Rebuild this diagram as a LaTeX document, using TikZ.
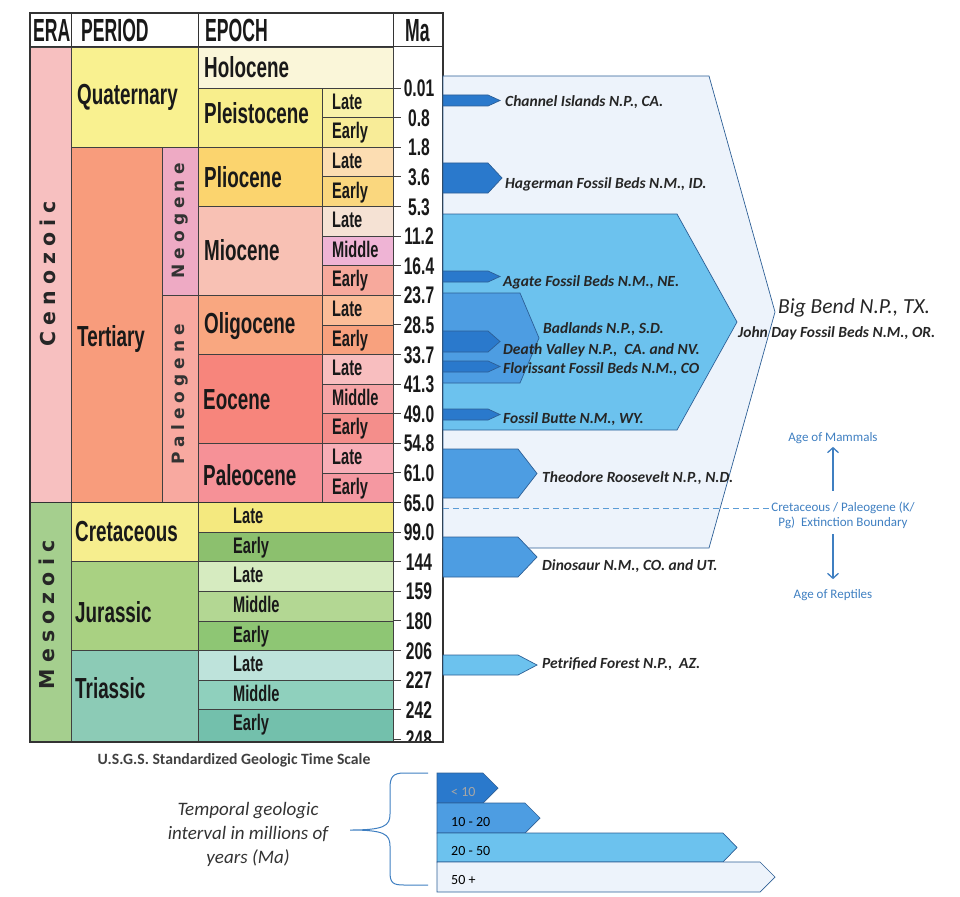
\documentclass[tikz,border=0pt]{standalone}
\usepackage{fontspec}
\setmainfont{Carlito}
\newfontfamily\tabfont[FakeStretch=0.65]{Liberation Sans}
\newfontfamily\headfont[FakeStretch=0.55]{Liberation Sans}
\newfontfamily\erafont[LetterSpace=30]{DejaVu Sans}
\usepackage{xcolor}
\usetikzlibrary{arrows, arrows.meta, positioning, calc}

% eras and periods
\definecolor{cenozoic}{HTML}{F7C0C0}
\definecolor{mesozoic}{HTML}{A5CF8E}
\definecolor{quaternary}{HTML}{F9F190}
\definecolor{tertiary}{HTML}{F89C7C}
\definecolor{neogene}{HTML}{EEAAC4}
\definecolor{paleogene}{HTML}{F8A9A0}
\definecolor{cretaceous}{HTML}{F6EE8E}
\definecolor{jurassic}{HTML}{A9D182}
\definecolor{triassic}{HTML}{8CCBB6}
% epochs
\definecolor{holocene}{HTML}{FAF6D9}
\definecolor{pleistocene}{HTML}{F8EE8C}
\definecolor{pliocene}{HTML}{FBD46E}
\definecolor{miocene}{HTML}{F8C1B4}
\definecolor{oligocene}{HTML}{F9A780}
\definecolor{eocene}{HTML}{F7857C}
\definecolor{paleocene}{HTML}{F69197}
% subdivisions
\definecolor{pleiL}{HTML}{F9F2AA}
\definecolor{pleiE}{HTML}{F8EC98}
\definecolor{plioL}{HTML}{FCDDB2}
\definecolor{plioE}{HTML}{FAD77E}
\definecolor{mioL}{HTML}{F5E2D4}
\definecolor{mioM}{HTML}{EFB4D5}
\definecolor{mioE}{HTML}{F7A99C}
\definecolor{oligL}{HTML}{FBBD98}
\definecolor{oligE}{HTML}{F8A17E}
\definecolor{eoL}{HTML}{F8BEBF}
\definecolor{eoM}{HTML}{F6A4A6}
\definecolor{eoE}{HTML}{F48E8B}
\definecolor{paleoL}{HTML}{F8AEB7}
\definecolor{paleoE}{HTML}{F598A1}
\definecolor{creL}{HTML}{F4E97F}
\definecolor{creE}{HTML}{8CC06E}
\definecolor{jurL}{HTML}{D6EBC0}
\definecolor{jurM}{HTML}{B3D793}
\definecolor{jurE}{HTML}{8EC674}
\definecolor{triL}{HTML}{BEE3DB}
\definecolor{triM}{HTML}{8FD0BD}
\definecolor{triE}{HTML}{73C0AC}
% interval arrows
\definecolor{blueA}{HTML}{2A79CC}
\definecolor{blueB}{HTML}{4D9DE2}
\definecolor{blueC}{HTML}{6CC2EE}
\definecolor{blueD}{HTML}{EDF3FB}
\definecolor{edgeblue}{HTML}{2D5F96}
\definecolor{noteblue}{HTML}{3F7FC1}
\definecolor{dashblue}{HTML}{5B9BD5}

% y of the k-th boundary below 0.01 Ma
\newcommand{\ry}[1]{(88+29.6*(#1))}
% style, left, top, bottom, body end, tip
\newcommand{\agearrow}[6]{%
  \filldraw[#1] (#2,#3) -- (#5,#3) -- (#6,{(#3+#4)/2}) -- (#5,#4) -- (#2,#4) -- cycle;}

\tikzset{
  cell/.style={draw=black!75, line width=0.6pt},
  headtxt/.style={font=\headfont\bfseries\fontsize{32}{32}\selectfont, anchor=west, inner sep=0pt, text height=23pt, text depth=0pt, text=black!90},
  epochtxt/.style={font=\tabfont\bfseries\fontsize{29}{29}\selectfont, anchor=west, inner sep=0pt, text height=20.8pt, text depth=0pt, text=black!90},
  subtxt/.style={font=\tabfont\bfseries\fontsize{22.5}{22.5}\selectfont, anchor=west, inner sep=0pt, text height=16.1pt, text depth=0pt, text=black!90},
  matxt/.style={font=\tabfont\bfseries\fontsize{24}{24}\selectfont, inner sep=0pt, text height=17.2pt, text depth=0pt, text=black!90},
  eratxt/.style={font=\erafont\bfseries\fontsize{20.5}{20.5}\selectfont, rotate=90, inner sep=0pt, text=black!85},
  subera/.style={font=\erafont\bfseries\fontsize{17}{17}\selectfont, rotate=90, inner sep=0pt, text=black!80},
  matick/.style={draw=black!75, line width=0.8pt},
  arrowedge/.style={draw=edgeblue, line width=0.7pt},
  lt10/.style={arrowedge, fill=blueA},
  ten20/.style={arrowedge, fill=blueB},
  twenty50/.style={arrowedge, fill=blueC},
  fiftyplus/.style={arrowedge, fill=blueD},
  parktxt/.style={font=\bfseries\itshape\fontsize{15.5}{18}\selectfont, anchor=base west, inner sep=0pt, text=black!85},
  notetxt/.style={font=\fontsize{13}{15.5}\selectfont, text=noteblue, inner sep=0pt},
  noteline/.style={draw=noteblue, line width=1.3pt, ->, >={Straight Barb[length=5pt, width=11pt]}},
  kpgdash/.style={draw=dashblue, dash pattern=on 6pt off 4pt, line width=0.8pt},
  bartxt/.style={font=\fontsize{14}{14}\selectfont, anchor=west, inner sep=0pt},
}

\begin{document}
\begin{tikzpicture}[x=1pt, y=-1pt]
\useasboundingbox (0,0) rectangle (960,896);

% Eras
\filldraw[cell, fill=cenozoic] (30,47) rectangle (71,{\ry{14}});
\filldraw[cell, fill=mesozoic] (30,{\ry{14}}) rectangle (71,742);
\node[eratxt] (ceno) at (48,274) {Cenozoic};
\node[eratxt] (meso) at (47,615) {Mesozoic};

% Periods
\filldraw[cell, fill=quaternary] (71,47) rectangle (198,{\ry{2}});
\filldraw[cell, fill=tertiary] (71,{\ry{2}}) rectangle (162,{\ry{14}});
\filldraw[cell, fill=neogene] (162,{\ry{2}}) rectangle (198,{\ry{7}});
\filldraw[cell, fill=paleogene] (162,{\ry{7}}) rectangle (198,{\ry{14}});
\filldraw[cell, fill=cretaceous] (71,{\ry{14}}) rectangle (198,{\ry{16}});
\filldraw[cell, fill=jurassic] (71,{\ry{16}}) rectangle (198,{\ry{19}});
\filldraw[cell, fill=triassic] (71,{\ry{19}}) rectangle (198,742);
\node[epochtxt] (quat) at (77,94) {Quaternary};
\node[epochtxt] (tert) at (77,336) {Tertiary};
\node[subera] (neo) at (180,221) {Neogene};
\node[subera] (paleo) at (180,394) {Paleogene};
\node[epochtxt] (cret) at (75,531) {Cretaceous};
\node[epochtxt] (jura) at (75,612) {Jurassic};
\node[epochtxt] (trias) at (75,688) {Triassic};

% Epochs
\filldraw[cell, fill=holocene] (198,47) rectangle (393,{\ry{0}});
\filldraw[cell, fill=pleistocene] (198,{\ry{0}}) rectangle (322,{\ry{2}});
\filldraw[cell, fill=pliocene] (198,{\ry{2}}) rectangle (322,{\ry{4}});
\filldraw[cell, fill=miocene] (198,{\ry{4}}) rectangle (322,{\ry{7}});
\filldraw[cell, fill=oligocene] (198,{\ry{7}}) rectangle (322,{\ry{9}});
\filldraw[cell, fill=eocene] (198,{\ry{9}}) rectangle (322,{\ry{12}});
\filldraw[cell, fill=paleocene] (198,{\ry{12}}) rectangle (322,{\ry{14}});
\node[epochtxt] (holo) at (204,67) {Holocene};
\node[epochtxt] (pleis) at (204,113.5) {Pleistocene};
\node[epochtxt] (plio) at (204,177) {Pliocene};
\node[epochtxt] (mio) at (204,250) {Miocene};
\node[epochtxt] (oligo) at (204,323) {Oligocene};
\node[epochtxt] (eo) at (203,399) {Eocene};
\node[epochtxt] (paleoc) at (203,475) {Paleocene};

% Late / Middle / Early
\foreach \k/\lab/\col in {0/Late/pleiL, 1/Early/pleiE, 2/Late/plioL, 3/Early/plioE,
    4/Late/mioL, 5/Middle/mioM, 6/Early/mioE, 7/Late/oligL, 8/Early/oligE,
    9/Late/eoL, 10/Middle/eoM, 11/Early/eoE, 12/Late/paleoL, 13/Early/paleoE} {
  \filldraw[cell, fill=\col] (322,{\ry{\k}}) rectangle (393,{\ry{\k+1}});
  \node[subtxt] (sub\k) at (332,{\ry{\k}+13.3}) {\lab};
}
\foreach \k/\lab/\col in {14/Late/creL, 15/Early/creE, 16/Late/jurL, 17/Middle/jurM,
    18/Early/jurE, 19/Late/triL, 20/Middle/triM} {
  \filldraw[cell, fill=\col] (198,{\ry{\k}}) rectangle (393,{\ry{\k+1}});
  \node[subtxt] (sub\k) at (233,{\ry{\k}+13.3}) {\lab};
}
\filldraw[cell, fill=triE] (198,{\ry{21}}) rectangle (393,742);
\node[subtxt] (sub21) at (233,{\ry{21}+13.3}) {Early};

% Ma column
\begin{scope}
\clip (30,13) rectangle (443,742);
\foreach \lab [count=\k from 0] in {0.01,0.8,1.8,3.6,5.3,11.2,16.4,23.7,28.5,33.7,41.3,
    49.0,54.8,61.0,65.0,99.0,144,159,180,206,227,242,248} {
  \draw[matick] (393,{\ry{\k}}) -- (401,{\ry{\k}});
  \node[matxt] (ma\k) at (419,{\ry{\k}}) {\lab};
}
\end{scope}
\draw[black!80, line width=1.4pt] (30,{\ry{14}}) -- (401,{\ry{14}});

% Header and frame
\draw[black!80, line width=1pt] (30,47) -- (443,47);
\foreach \x in {71,198,393} \draw[black!80, line width=1pt] (\x,13) -- (\x,47);
\draw[black!80, line width=1.4pt] (30,13) rectangle (443,742);
\node[headtxt] (era) at (33,30) {ERA};
\node[headtxt] (period) at (81,30) {PERIOD};
\node[headtxt] (epoch) at (205,30) {EPOCH};
\node[headtxt] (ma) at (405,30) {Ma};

% Park intervals
\agearrow{fiftyplus}{443}{76}{548}{709}{775}
\agearrow{twenty50}{443}{214}{430}{677}{737}
\agearrow{ten20}{443}{293}{383}{520}{539}
\agearrow{lt10}{443}{95}{106}{488}{500}
\agearrow{lt10}{443}{163}{193}{488}{502}
\agearrow{lt10}{443}{271}{282}{488}{500}
\agearrow{lt10}{443}{331}{352}{488}{500}
\agearrow{lt10}{443}{361}{372}{488}{500}
\agearrow{lt10}{443}{409}{420}{488}{500}
\agearrow{ten20}{443}{449}{498}{518}{537}
\agearrow{ten20}{443}{537}{577}{518}{537}
\agearrow{twenty50}{443}{655}{675}{518}{537}

\node[parktxt] (channel) at (505,107) {Channel Islands N.P., CA.};
\node[parktxt] (hagerman) at (505,188) {Hagerman Fossil Beds N.M., ID.};
\node[parktxt] (agate) at (503,286) {Agate Fossil Beds N.M., NE.};
\node[parktxt] (badlands) at (543,333) {Badlands N.P., S.D.};
\node[parktxt] (death) at (503,354) {Death Valley N.P.,\ \ CA. and NV.};
\node[parktxt] (floris) at (503,373) {Florissant Fossil Beds N.M., CO};
\node[parktxt] (butte) at (503,423) {Fossil Butte N.M., WY.};
\node[parktxt] (roosevelt) at (542,482) {Theodore Roosevelt N.P., N.D.};
\node[parktxt] (dino) at (542,570) {Dinosaur N.M., CO. and UT.};
\node[parktxt] (petrified) at (542,668) {Petrified Forest N.P.,\ \ AZ.};
\node[parktxt, font=\itshape\fontsize{21.5}{23}\selectfont] (bigbend) at (778,313) {Big Bend N.P., TX.};
\node[parktxt] (johnday) at (738,337) {John Day Fossil Beds N.M., OR.};

% K/Pg boundary
\node[notetxt] (mammals) at (833,438) {Age of Mammals};
\node[notetxt, align=center] (kpg) at (843,515.5) {Cretaceous / Paleogene (K/\\Pg)\ \ Extinction Boundary};
\node[notetxt] (reptiles) at (833,595) {Age of Reptiles};
\draw[noteline, shorten <=11pt, shorten >=3pt] (mammals.south |- kpg.north) -- (mammals.south);
\draw[noteline, shorten <=5pt, shorten >=10pt] (reptiles.north |- kpg.south) -- (reptiles.north);
\coordinate (kpgstart) at (443,508);
\draw[kpgdash] (kpgstart) -- (kpgstart -| kpg.west);

% Legend
\node[font=\bfseries\fontsize{15.7}{16}\selectfont, text=black!75] (usgs) at (234,760) {U.S.G.S. Standardized Geologic Time Scale};
\node[font=\itshape\fontsize{19}{24}\selectfont, text=black!80, align=center, inner sep=0pt] (legend) at (248,834) {Temporal geologic\\interval in millions of\\years (Ma)};
\draw[noteblue, line width=1pt] (428,773) -- (404,773) .. controls (393,773) and (390,777) .. (390,788) -- (390,814)
  .. controls (390,826) and (384,830) .. (350,830) .. controls (384,830) and (390,834) .. (390,846) -- (390,872)
  .. controls (390,883) and (393,885) .. (404,885) -- (428,885);
\agearrow{lt10}{437}{773}{803}{483}{498}
\agearrow{ten20}{437}{803}{833}{525}{540}
\agearrow{twenty50}{437}{833}{862}{723}{737}
\agearrow{fiftyplus}{437}{862}{892}{760}{775}
\node[bartxt, text=black!35] (lab10) at (451,792) {< 10};
\node[bartxt] (lab20) at (451,822) {10 - 20};
\node[bartxt] (lab50) at (451,851) {20 - 50};
\node[bartxt] (labmore) at (451,880) {50 +};
\end{tikzpicture}
\end{document}
